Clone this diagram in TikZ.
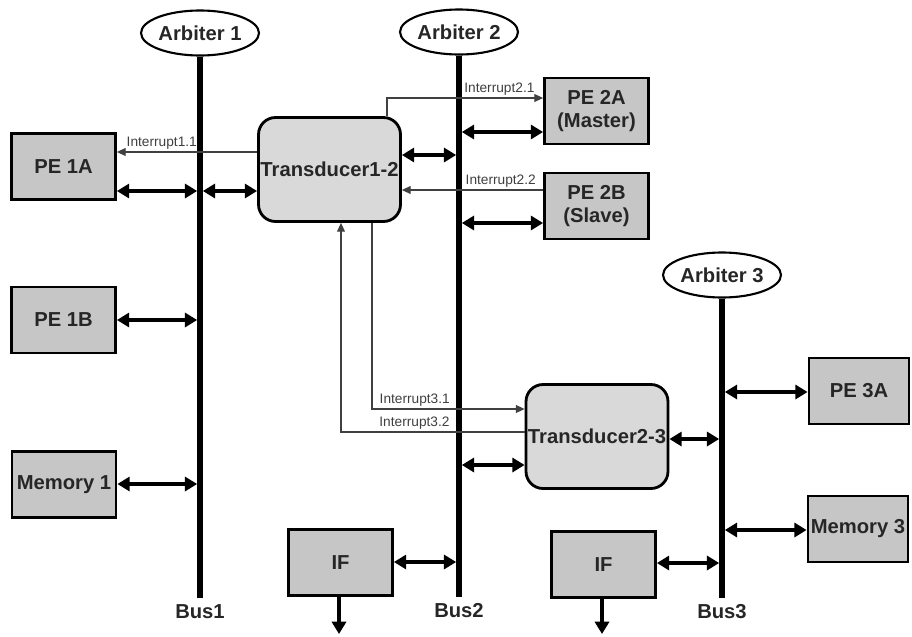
\documentclass[tikz,border=0pt]{standalone}
\usepackage{fontspec}
\setmainfont{Liberation Sans}
\usetikzlibrary{arrows.meta,shapes.geometric}

\definecolor{boxgray}{RGB}{198,198,198}
\definecolor{transgray}{RGB}{217,217,217}
\definecolor{textgray}{RGB}{38,38,38}
\definecolor{irqgray}{RGB}{64,64,64}

\begin{document}
\begin{tikzpicture}[x=0.02cm, y=-0.02cm,
    unit/.style={draw, fill=boxgray, line width=1.6pt, text=textgray,
        font=\fontsize{11.5}{13}\selectfont\bfseries, align=center, inner sep=0pt,
        minimum width=2.08cm, minimum height=1.32cm},
    transducer/.style={unit, fill=transgray, rounded corners=0.34cm,
        minimum width=2.84cm, minimum height=2.08cm},
    arbiter/.style={ellipse, draw, line width=1.2pt, fill=white, text=textgray,
        font=\fontsize{11.5}{13}\selectfont\bfseries, inner sep=0pt,
        minimum width=2.36cm, minimum height=0.9cm},
    buslabel/.style={text=textgray, font=\fontsize{11.5}{13}\selectfont\bfseries, inner sep=3.5pt},
    bus/.style={line width=3.2pt},
    link/.style={line width=2pt, shorten <=1.6pt,
        {Triangle[length=7pt,width=8pt]}-{Triangle[length=7pt,width=8pt]}},
    exitarrow/.style={line width=2pt, -{Triangle[length=7pt,width=8pt]}},
    irq/.style={irqgray, line width=0.6pt, -{Triangle[length=5pt,width=4.5pt]}},
    irqlabel/.style={text=irqgray, font=\fontsize{7.8}{9}\selectfont, inner sep=1pt}]

    % fix the page to the reference size (units are pixels)
    \useasboundingbox (0,0) rectangle (912,636);

    % Arbiters on top of the buses
    \node[arbiter] (arb1) at (200,33) {Arbiter 1};
    \node[arbiter] (arb2) at (459,32) {Arbiter 2};
    \node[arbiter] (arb3) at (722,275) {Arbiter 3};

    % Bus ends
    \coordinate (bus1) at (200,598);
    \coordinate (bus2) at (459,597);
    \coordinate (bus3) at (722,598);

    % Processing elements, memories and interfaces
    \node[unit] (pe1a) at (63.5,166.5) {PE 1A};
    \node[unit] (pe1b) at (63.5,320) {PE 1B};
    \node[unit] (mem1) at (64,484.5) {Memory 1};
    \node[unit] (pe2a) at (596.5,111) {PE 2A\\(Master)};
    \node[unit] (pe2b) at (596.5,206) {PE 2B\\(Slave)};
    \node[unit, minimum width=2cm] (pe3a) at (859,391) {PE 3A};
    \node[unit, minimum width=2cm] (mem3) at (858,529) {Memory 3};
    \node[unit] (ifa) at (340.5,562.5) {IF};
    \node[unit] (ifb) at (603.5,564.5) {IF};

    % Transducers between the buses
    \node[transducer] (tr12) at (329.5,169.5) {Transducer1-2};
    \node[transducer] (tr23) at (597,436.5) {Transducer2-3};

    % Bus taps (bus end first)
    \foreach \b/\n/\y in {bus1/pe1a.east/191, bus1/tr12.west/191, bus1/pe1b.east/320,
        bus1/mem1.east/484, bus2/tr12.east/155, bus2/pe2a.west/132, bus2/pe2b.west/223,
        bus2/tr23.west/465, bus2/ifa.east/562, bus3/tr23.east/439, bus3/pe3a.west/392,
        bus3/mem3.west/530, bus3/ifb.east/563}
        \draw[link] (\b |- 0,\y) -- (\n |- 0,\y);

    % The buses
    \draw[bus] (arb1.south) -- (bus1);
    \draw[bus] (arb2.south) -- (bus2);
    \draw[bus] (arb3.south) -- (bus3);
    \node[buslabel, below] (bus1lbl) at (bus1) {Bus1};
    \node[buslabel, below] (bus2lbl) at (bus2) {Bus2};
    \node[buslabel, below] (bus3lbl) at (bus3) {Bus3};

    % Interrupt lines
    \draw[irq] (tr12.west |- 0,152) -- node[irqlabel, pos=0.68, above]{Interrupt1.1} (pe1a.east |- 0,152);
    \draw[irq] (tr12.north -| 387,0) |- node[irqlabel, pos=0.86, above]{Interrupt2.1} (pe2a.west |- 0,98);
    \draw[irq] (pe2b.west |- 0,190) -- node[irqlabel, pos=0.3, above]{Interrupt2.2} (tr12.east |- 0,190);
    \draw[irq] (tr12.south -| 372,0) |- node[irqlabel, pos=0.64, above]{Interrupt3.1} (tr23.west |- 0,409);
    \draw[irq] (tr23.west |- 0,432) -| node[irqlabel, pos=0.3, above]{Interrupt3.2} (tr12.south -| 341,0);

    % Interfaces leave the picture
    \coordinate (ifaexit) at (339,634);
    \coordinate (ifbexit) at (602,634);
    \draw[exitarrow] (ifa.south -| ifaexit) -- (ifaexit);
    \draw[exitarrow] (ifb.south -| ifbexit) -- (ifbexit);

\end{tikzpicture}
\end{document}
